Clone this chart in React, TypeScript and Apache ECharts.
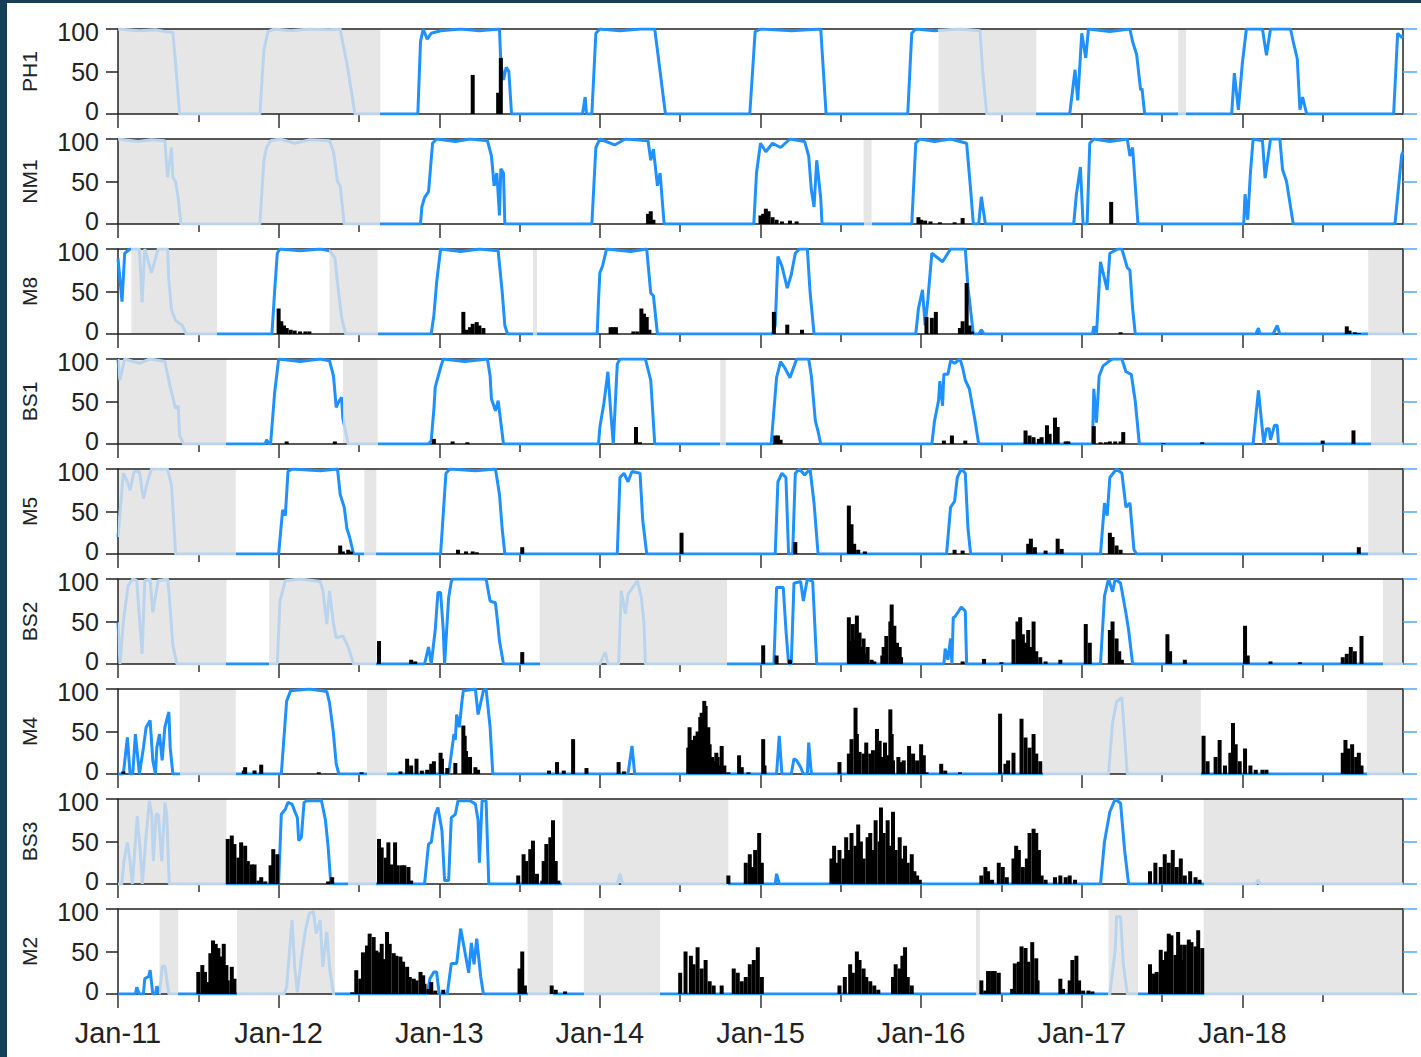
import React, { useEffect, useRef } from "react";
import * as echarts from "echarts";

// x values are months since Jan 2011
const STATIONS = ["PH1", "NM1", "M8", "BS1", "M5", "BS2", "M4", "BS3", "M2"];
const X_TICKS = [0, 12, 24, 36, 48, 60, 72, 84];
const X_MINOR_TICKS = [6, 18, 30, 42, 54, 66, 78, 90];
const X_TICK_LABELS = ["Jan-11", "Jan-12", "Jan-13", "Jan-14", "Jan-15", "Jan-16", "Jan-17", "Jan-18"];

const PH1_LINE = [[0,100],[1.6,98],[2.8,99],[3.5,97],[4.1,96],[4.3,60],[4.6,0],[10.6,0],[10.9,75],[11.2,97],[11.7,100],[12.9,98],[14.3,100],[15.8,99],[16.6,100],[16.9,75],[17.1,60],[17.3,40],[17.5,20],[17.7,0],[22.4,0],[22.6,85],[22.8,100],[23.1,88],[23.4,95],[24.1,98],[25.6,100],[27,98],[28.5,100],[28.6,60],[28.8,40],[29,55],[29.2,50],[29.4,0],[34.7,0],[34.9,20],[35,0],[35.4,0],[35.7,95],[36,100],[37.5,98],[39,100],[40.1,100],[40.5,50],[40.9,0],[47.2,0],[47.6,97],[48,100],[50.3,98],[52.5,100],[52.7,50],[52.9,0],[59,0],[59.3,95],[59.6,100],[61,98],[62.9,100],[64.4,98],[64.6,50],[64.9,0],[71.1,0],[71.5,52],[71.7,16],[72,95],[72.3,66],[72.5,100],[74.1,97],[75.6,100],[75.8,85],[76.1,70],[76.4,28],[76.5,30],[76.7,0],[83.2,0],[83.4,48],[83.7,5],[84,60],[84.3,100],[85.5,100],[85.8,69],[86.1,100],[87.6,100],[87.8,85],[88.1,65],[88.3,5],[88.5,20],[88.8,0],[95.3,0],[95.6,95],[95.9,90],[96,92]];
const PH1_BARS = [[26.5,46],[28.4,25],[28.6,66]];
const PH1_GRAY = [[0,19.6],[61.3,68.6],[79.2,79.8]];

const NM1_LINE = [[0,100],[1.5,97],[2.5,99],[3.5,98],[3.7,55],[4.0,90],[4.1,55],[4.3,50],[4.5,30],[4.7,0],[10.6,0],[10.9,75],[11.1,90],[11.4,98],[12.1,100],[13.2,95],[14.3,99],[15.8,98],[16.1,85],[16.4,50],[16.6,45],[16.9,0],[22.6,0],[22.7,20],[22.9,31],[23.2,38],[23.5,95],[23.8,100],[25.2,97],[26.3,100],[27.6,98],[27.9,80],[28.1,45],[28.3,60],[28.5,10],[28.6,65],[28.8,60],[28.9,0],[35.4,0],[35.7,90],[36,100],[37.1,93],[37.9,100],[39.6,98],[39.8,75],[40,88],[40.3,45],[40.5,60],[40.8,0],[47.5,0],[47.7,60],[48,95],[48.4,85],[48.9,95],[49.5,90],[50.2,100],[51.3,97],[51.6,80],[51.8,40],[52,20],[52.2,75],[52.5,30],[52.6,0],[59.3,0],[59.6,95],[59.9,100],[61,97],[62.2,100],[63.4,95],[63.7,40],[63.9,0],[64.3,0],[64.5,32],[64.8,0],[71.4,0],[71.6,35],[71.9,67],[72.1,0],[72.4,0],[72.6,95],[72.9,100],[74.1,97],[75.4,100],[75.6,80],[75.8,90],[76.2,0],[84.1,0],[84.2,35],[84.4,5],[84.6,60],[84.8,100],[85.5,98],[85.7,54],[86.1,100],[86.8,100],[87,64],[87.3,50],[87.8,0],[95.4,0],[95.9,81],[96,85]];
const NM1_BARS = [[39.6,12],[39.8,15],[40,5],[48,10],[48.2,12],[48.4,18],[48.6,15],[48.9,8],[49.2,5],[49.6,3],[50.2,4],[50.7,3],[59.8,8],[60,5],[60.3,4],[60.7,3],[61.4,2],[62.5,2],[63.1,7],[74.2,26]];
const NM1_GRAY = [[0,19.6],[55.7,56.3]];

const M8_LINE = [[0,89],[0.3,38],[0.5,95],[0.9,100],[1.6,100],[1.8,37],[2.0,100],[2.5,72],[3.0,100],[3.7,100],[3.8,63],[4.0,28],[4.3,16],[4.8,10],[5.1,0],[11.5,0],[11.7,50],[11.9,95],[12.1,100],[13.6,98],[15.1,100],[15.8,98],[16.2,90],[16.4,60],[16.7,20],[17,0],[23.4,0],[23.6,22],[23.8,60],[24.1,100],[25.6,97],[27,100],[28.4,98],[28.7,50],[28.9,10],[29.1,0],[35.8,0],[35.9,40],[36,72],[36.2,80],[36.5,100],[38.3,97],[39.5,100],[39.8,48],[40,45],[40.3,0],[48.9,0],[49.1,10],[49.3,91],[49.6,80],[50,54],[50.3,70],[50.6,95],[50.9,100],[51.5,100],[51.7,50],[52,0],[59.6,0],[59.8,30],[60.1,52],[60.3,10],[60.5,40],[60.8,95],[61.2,90],[61.6,85],[62.2,100],[63.3,100],[63.5,55],[63.9,0],[64.3,0],[64.5,5],[64.7,0],[72.8,0],[72.9,9],[73.1,0],[73.4,85],[73.9,52],[74.1,95],[74.7,100],[75,100],[75.4,78],[75.6,75],[75.8,30],[76,0],[85,0],[85.2,7],[85.3,0],[86.3,0],[86.6,10],[86.8,0],[96,0]];
const M8_BARS = [[12,30],[12.2,15],[12.4,10],[12.6,7],[12.9,5],[13.2,4],[13.6,3],[14,3],[14.3,3],[25.8,26],[26,5],[26.3,8],[26.5,12],[26.8,14],[27,10],[27.3,7],[36.8,8],[37,8],[37.2,8],[38.5,3],[38.8,3],[39.1,30],[39.3,24],[39.5,20],[39.7,5],[49,26],[50,11],[51.1,5],[60.4,20],[60.8,19],[61.1,26],[62.9,7],[63.1,15],[63.4,60],[63.6,10],[63.8,3],[74.9,2],[91.8,9],[92,4],[92.4,2],[92.7,1]];
const M8_GRAY = [[1.0,7.4],[15.8,19.4],[31,31.3],[93.4,96]];

const BS1_LINE = [[0,100],[0.15,75],[0.5,100],[1.6,95],[2.4,100],[3.5,97],[3.9,67],[4.3,42],[4.5,45],[4.6,10],[4.9,0],[11,0],[11.1,5],[11.3,0],[11.4,0],[11.7,60],[12,100],[13.6,97],[15.1,100],[15.8,98],[16.1,80],[16.3,43],[16.5,50],[16.7,55],[16.8,30],[17.2,0],[23.2,0],[23.4,4],[23.6,41],[23.7,67],[24.1,90],[24.3,100],[25.9,97],[27.6,100],[27.8,80],[27.9,53],[28.2,39],[28.4,51],[28.8,0],[35.9,0],[36,20],[36.3,48],[36.6,85],[36.8,40],[37,0],[37.3,94],[37.5,100],[39.4,100],[39.8,75],[40.1,0],[48.8,0],[49.2,78],[49.5,97],[49.8,90],[50.2,78],[50.7,100],[51.6,100],[51.8,80],[52.1,27],[52.3,15],[52.5,0],[60.8,0],[61,27],[61.3,51],[61.4,74],[61.6,45],[61.7,82],[62,82],[62.2,98],[62.5,95],[62.9,100],[63.1,90],[63.3,75],[63.6,65],[64,30],[64.3,0],[72.8,0],[72.9,65],[73.1,25],[73.3,80],[73.6,92],[74,97],[74.3,100],[75,100],[75.3,85],[75.7,82],[76,50],[76.3,0],[84.8,0],[85.2,63],[85.6,0],[85.8,18],[86,18],[86.1,5],[86.4,22],[86.6,22],[86.7,0],[96,0]];
const BS1_BARS = [[12.6,3],[16.2,3],[23.6,6],[25,3],[26.1,2],[38.7,20],[39,2],[49.1,10],[49.3,10],[49.5,5],[61.7,4],[62.3,10],[63.3,4],[67.8,16],[68.1,10],[68.4,8],[68.8,6],[69,8],[69.4,22],[69.6,12],[70,31],[70.2,20],[70.8,3],[71,3],[72.9,21],[73.4,2],[73.8,2],[74.1,3],[74.5,3],[74.9,3],[75.1,14],[78.1,1],[81,2],[90,4],[92.3,16]];
const BS1_GRAY = [[0,8.1],[16.8,19.4],[45,45.4],[93.6,96]];

const M5_LINE = [[0,20],[0.4,95],[0.7,85],[0.9,75],[1.2,97],[1.6,97],[1.9,65],[2.2,85],[2.5,100],[3.7,100],[4,80],[4.1,55],[4.3,0],[12,0],[12.3,52],[12.5,45],[12.7,97],[13,100],[15.1,98],[16.4,100],[16.6,70],[16.9,55],[17.1,30],[17.3,20],[17.6,0],[24.1,0],[24.5,95],[24.8,100],[26.7,98],[28.2,100],[28.5,70],[28.7,30],[28.9,0],[37.3,0],[37.5,90],[37.8,95],[38.1,85],[38.4,97],[39,95],[39.2,40],[39.5,0],[49.1,0],[49.3,85],[49.6,95],[49.9,90],[50.1,0],[50.4,0],[50.6,95],[50.9,100],[51.3,93],[51.7,100],[52,60],[52.3,0],[61.9,0],[62.2,55],[62.5,62],[62.7,90],[63,100],[63.3,95],[63.5,30],[63.7,0],[73.4,0],[73.7,60],[73.9,45],[74.1,90],[74.6,100],[75,95],[75.3,55],[75.6,60],[75.9,5],[76.1,0],[96,0]];
const M5_BARS = [[16.6,10],[16.8,3],[17.2,5],[17.4,3],[25.4,5],[26,3],[26.5,3],[26.8,2],[30.2,8],[42.1,25],[50.6,14],[54.6,57],[54.8,35],[55,12],[55.3,5],[55.8,3],[62.5,5],[63.1,4],[68,12],[68.2,18],[68.5,8],[69.3,4],[70.2,18],[70.5,6],[74.1,25],[74.3,20],[74.6,10],[74.9,5],[92.7,8]];
const M5_GRAY = [[0,8.8],[18.4,19.3],[93.4,96]];

const BS2_LINE = [[0,49],[0.15,0],[0.4,50],[0.75,92],[1.1,100],[1.4,98],[1.8,12],[2,98],[2.4,100],[2.6,61],[3,98],[3.7,100],[3.8,86],[4.1,22],[4.4,0],[11.9,0],[12.1,74],[12.5,98],[13.6,100],[15.1,97],[15.3,87],[15.6,47],[15.8,86],[16.1,47],[16.3,31],[16.8,33],[17.2,20],[17.6,0],[22.9,0],[23.2,20],[23.4,0],[23.7,40],[23.9,84],[24.1,84],[24.3,40],[24.4,0],[24.7,78],[24.9,97],[25,100],[27.5,100],[27.8,74],[28.2,72],[28.4,43],[28.5,27],[28.8,0],[36,0],[36.4,14],[36.6,0],[37.4,0],[37.6,86],[37.9,59],[38.1,82],[38.8,98],[39.1,78],[39.3,48],[39.4,0],[49,0],[49.2,90],[49.7,90],[49.9,40],[50.1,0],[50.3,0],[50.5,95],[51,97],[51.2,74],[51.5,100],[51.9,97],[52.2,0],[61.7,0],[61.8,18],[62,5],[62.2,30],[62.3,0],[62.4,55],[62.5,55],[62.8,62],[63,67],[63.3,62],[63.4,0],[73.4,0],[73.7,80],[74,100],[74.3,85],[74.5,100],[74.9,95],[75.3,60],[75.5,40],[75.8,0],[96,0]];
const BS2_BARS = [[19.5,27],[21.9,5],[22.2,3],[30.2,14],[48.2,22],[49.2,10],[50.2,5],[54.6,55],[54.8,27],[54.9,47],[55.1,30],[55.2,57],[55.4,37],[55.5,20],[55.7,30],[55.9,12],[56,20],[56.3,5],[56.5,3],[57.1,10],[57.2,20],[57.4,33],[57.7,50],[57.8,70],[58,45],[58.2,25],[58.4,20],[58.5,8],[63.1,3],[64.7,6],[66,2],[66.9,29],[67.2,50],[67.4,55],[67.6,35],[67.8,25],[68,40],[68.2,20],[68.4,50],[68.6,15],[68.9,8],[69.3,3],[70.4,5],[72.3,47],[72.6,25],[74.1,40],[74.3,50],[74.6,30],[74.8,15],[75,5],[78.4,35],[78.6,15],[79.7,5],[84.2,45],[84.4,10],[86.1,3],[88.3,2],[91.5,8],[91.8,12],[92.1,20],[92.4,15],[92.9,33]];
const BS2_GRAY = [[0,8.1],[11.3,19.3],[31.5,45.5],[94.5,96]];

const M4_LINE = [[0,0],[0.4,0],[0.7,43],[0.9,0],[1.1,0],[1.3,47],[1.6,0],[1.9,31],[2.1,55],[2.4,63],[2.6,16],[2.8,0],[2.9,31],[3.1,47],[3.3,16],[3.5,55],[3.8,73],[3.9,31],[4.1,0],[12.2,0],[12.6,86],[12.9,98],[14.3,100],[15.6,97],[15.8,84],[16.1,47],[16.3,12],[16.5,0],[24.7,0],[25.1,47],[25.2,40],[25.3,70],[25.5,55],[25.7,86],[25.8,98],[26.7,100],[26.9,70],[27.3,98],[27.5,100],[27.8,55],[28,0],[38.1,0],[38.4,33],[38.6,0],[49.2,0],[49.4,45],[49.6,0],[50.3,0],[50.5,18],[50.7,16],[51,8],[51.2,0],[51.5,0],[51.6,37],[51.8,0],[74,0],[74.3,60],[74.6,85],[75,90],[75.4,0],[96,0]];
const M4_BARS = [[0.4,3],[9.4,4],[9.5,8],[10.2,4],[10.7,11],[15,2],[18.2,2],[21.1,3],[21.6,18],[21.9,10],[22.3,18],[22.7,4],[23.1,5],[23.4,12],[23.6,15],[24.1,25],[24.2,18],[24.6,7],[25.2,13],[25.8,57],[25.9,45],[26,27],[26.3,20],[26.7,8],[26.9,5],[32.2,4],[32.8,14],[33.3,4],[34,41],[35,7],[37.4,14],[37.8,3],[42.6,31],[42.7,55],[42.9,40],[43.1,45],[43.3,50],[43.5,67],[43.6,72],[43.8,86],[43.9,80],[44.1,55],[44.2,35],[44.4,20],[44.5,15],[44.7,25],[44.8,20],[45,10],[45.1,33],[45.3,10],[45.6,2],[46.4,22],[46.6,8],[47.1,2],[48.2,41],[48.3,10],[53.9,14],[54.6,24],[54.8,41],[55.1,78],[55.2,47],[55.4,26],[55.7,24],[55.9,37],[56.2,24],[56.4,28],[56.7,53],[56.9,39],[57.1,20],[57.3,37],[57.6,22],[57.7,76],[57.8,47],[57.9,16],[58.3,20],[58.5,14],[58.7,16],[59.1,33],[59.4,24],[59.7,16],[60,35],[60.2,22],[60.4,2],[61.5,12],[61.8,4],[62.9,2],[65.9,71],[66.3,12],[66.5,16],[66.9,25],[67.5,65],[67.8,43],[68.1,31],[68.4,47],[68.6,24],[68.9,15],[81.1,45],[81.4,15],[82,20],[82.3,40],[82.7,10],[83.1,25],[83.3,60],[83.5,35],[83.8,15],[84.2,30],[84.6,10],[85,5],[85.5,5],[85.8,5],[91.5,25],[91.7,40],[91.9,30],[92.2,35],[92.5,20],[92.7,25],[92.9,10]];
const M4_GRAY = [[4.6,8.8],[18.6,20.1],[69.1,80.9],[93.3,96]];

const BS3_LINE = [[0,0],[0.28,0],[0.45,27],[0.7,49],[0.9,27],[1.07,0],[1.27,43],[1.44,80],[1.64,43],[1.82,0],[2.07,51],[2.34,98],[2.52,82],[2.64,27],[2.84,82],[3.01,82],[3.27,27],[3.51,96],[3.64,82],[3.83,0],[12,0],[12.2,82],[12.5,88],[12.7,96],[13,94],[13.4,78],[13.5,51],[13.7,55],[13.9,96],[14.1,98],[15.2,98],[15.5,75],[15.7,43],[15.9,0],[22.9,0],[23.2,47],[23.4,49],[23.7,82],[23.9,90],[24.2,63],[24.4,4],[24.7,4],[24.9,78],[25.2,82],[25.4,98],[26.3,98],[26.7,94],[26.9,75],[27,25],[27.2,98],[27.5,98],[27.7,0],[37.3,0],[37.5,12],[37.7,0],[49.1,0],[49.2,12],[49.4,0],[73.4,0],[73.7,50],[74.1,85],[74.5,100],[74.9,95],[75.2,40],[75.5,0],[85,0],[85.2,5],[85.3,0],[96,0]];
const BS3_BARS = [[8.2,53],[8.5,57],[8.7,47],[9,31],[9.2,49],[9.5,45],[9.7,27],[10,23],[10.2,23],[10.5,4],[10.7,8],[11,3],[11.4,22],[11.6,41],[11.9,35],[15.7,3],[16,8],[19.5,53],[19.7,43],[20,31],[20.2,49],[20.4,23],[20.7,49],[20.9,22],[21.2,22],[21.4,22],[21.7,20],[21.9,4],[29.9,10],[30.3,35],[30.5,27],[30.8,41],[31,51],[31.3,12],[31.7,4],[31.8,27],[32,47],[32.3,55],[32.5,75],[32.7,27],[32.9,4],[45.6,10],[46.9,25],[47.2,35],[47.4,20],[47.6,40],[47.9,60],[48.1,25],[53.3,30],[53.5,45],[53.7,25],[53.9,40],[54.2,30],[54.4,55],[54.6,40],[54.8,60],[55.1,45],[55.3,70],[55.5,50],[55.7,30],[56,55],[56.2,60],[56.4,40],[56.6,75],[56.9,50],[57,90],[57.2,60],[57.5,75],[57.7,45],[57.9,85],[58.1,40],[58.4,55],[58.6,30],[58.8,45],[59,25],[59.3,35],[59.5,15],[59.7,10],[59.9,5],[64.5,10],[64.8,20],[65,15],[65.3,5],[65.8,25],[66.1,20],[66.4,8],[66.9,30],[67.1,45],[67.3,40],[67.6,20],[67.9,30],[68.1,60],[68.4,65],[68.6,60],[68.8,40],[69,10],[69.3,5],[70,8],[70.4,10],[70.8,8],[71.1,10],[71.5,5],[77.1,15],[77.5,25],[77.9,20],[78.2,35],[78.5,25],[78.8,40],[79.1,20],[79.4,30],[79.7,10],[80.1,15],[80.5,8],[80.8,5]];
const BS3_GRAY = [[0,8.1],[17.2,19.3],[33.2,45.6],[81.1,96]];

const M2_LINE = [[0,0],[1.3,0],[1.4,8],[1.6,0],[1.9,0],[2,18],[2.3,21],[2.4,28],[2.6,0],[2.8,0],[2.9,9],[3.1,0],[3.3,32],[3.5,33],[3.8,0],[12.4,0],[12.6,8],[13,87],[13.2,32],[13.4,2],[13.7,42],[14,75],[14.3,95],[14.6,97],[14.8,71],[15.1,87],[15.3,32],[15.6,73],[15.8,32],[16.1,0],[23.1,0],[23.3,18],[23.6,26],[23.8,26],[24,0],[24.6,0],[24.9,36],[25.3,36],[25.6,77],[25.9,51],[26.2,25],[26.4,60],[26.6,35],[26.8,65],[27.1,20],[27.3,0],[74.1,0],[74.5,52],[74.6,91],[74.9,91],[75.1,36],[75.4,0],[96,0]];
const M2_BARS = [[6,26],[6.3,34],[6.5,26],[6.7,14],[6.9,48],[7.1,63],[7.3,59],[7.5,54],[7.7,44],[7.9,59],[8.1,34],[8.2,16],[8.5,32],[8.7,18],[17.5,2],[17.8,28],[18.1,18],[18.3,49],[18.6,57],[18.8,71],[19.1,67],[19.3,51],[19.5,49],[19.7,59],[19.9,41],[20.1,73],[20.3,59],[20.6,48],[20.8,45],[21.1,44],[21.3,38],[21.6,32],[21.8,20],[22.1,18],[22.3,16],[22.6,26],[22.8,22],[22.9,12],[23.2,6],[23.4,14],[23.7,4],[24.3,5],[30,30],[30.2,50],[30.4,10],[32.4,10],[32.7,5],[33.4,3],[42,25],[42.4,50],[42.8,45],[43,35],[43.3,55],[43.6,30],[43.9,40],[44.2,15],[44.5,10],[45.1,10],[46,30],[46.3,25],[46.6,15],[46.9,20],[47.2,35],[47.5,40],[47.8,55],[48.1,20],[53.9,10],[54.3,20],[54.7,35],[54.9,25],[55.2,50],[55.4,40],[55.7,30],[55.9,20],[56.2,15],[56.5,10],[56.8,5],[57.9,20],[58.1,35],[58.4,30],[58.6,45],[58.8,55],[59,20],[59.3,10],[64.5,16],[64.8,4],[65,27],[65.3,27],[65.5,27],[65.8,25],[66.8,6],[67,36],[67.3,38],[67.5,56],[67.8,54],[68,38],[68.3,61],[68.6,42],[68.7,16],[70.4,18],[70.6,6],[71.1,16],[71.3,40],[71.6,45],[71.8,16],[72.1,4],[72.5,4],[72.8,3],[77.1,35],[77.4,24],[77.6,26],[77.9,52],[78.1,40],[78.3,50],[78.5,71],[78.7,69],[79,46],[79.2,73],[79.4,58],[79.6,40],[79.7,58],[80,64],[80.2,61],[80.5,56],[80.7,75],[81,54]];
const M2_GRAY = [[3.1,4.5],[8.9,16.2],[30.6,32.5],[34.8,40.5],[64.1,64.4],[74,76.2],[81.1,96]];

const PANELS = [
  { name: STATIONS[0], line: PH1_LINE, bars: PH1_BARS, gray: PH1_GRAY },
  { name: STATIONS[1], line: NM1_LINE, bars: NM1_BARS, gray: NM1_GRAY },
  { name: STATIONS[2], line: M8_LINE, bars: M8_BARS, gray: M8_GRAY },
  { name: STATIONS[3], line: BS1_LINE, bars: BS1_BARS, gray: BS1_GRAY },
  { name: STATIONS[4], line: M5_LINE, bars: M5_BARS, gray: M5_GRAY },
  { name: STATIONS[5], line: BS2_LINE, bars: BS2_BARS, gray: BS2_GRAY },
  { name: STATIONS[6], line: M4_LINE, bars: M4_BARS, gray: M4_GRAY },
  { name: STATIONS[7], line: BS3_LINE, bars: BS3_BARS, gray: BS3_GRAY },
  { name: STATIONS[8], line: M2_LINE, bars: M2_BARS, gray: M2_GRAY },
];

const BLUE = "#1e90ff";
const FADED = "#bad4ee";
const SHADE = "#e6e6e6";
const INK = "#222222";
const FONT = "'Liberation Sans', Arial, Helvetica, sans-serif";

function buildOption() {
  const n = PANELS.length;
  const grid: any[] = [];
  const xAxis: any[] = [];
  const yAxis: any[] = [];
  const series: any[] = [];
  const visualMap: any[] = [];
  PANELS.forEach((p, i) => {
    grid.push({ left: 118, width: 1285, top: 29 + 110 * i, height: 85, show: false });
    const base = { gridIndex: i, type: "value", min: 0, max: 96, splitLine: { show: false }, z: 3 };
    xAxis.push({
      ...base,
      position: "bottom",
      axisLine: { show: true, onZero: false, lineStyle: { color: INK, width: 1.5 } },
      axisTick: { show: true, length: 14, customValues: X_TICKS, lineStyle: { color: "#333", width: 1.5 } },
      axisLabel: {
        show: i === n - 1,
        customValues: X_TICKS,
        formatter: (v: number) => X_TICK_LABELS[X_TICKS.indexOf(Math.round(v))] || "",
        fontSize: 29,
        color: INK,
        margin: 24,
        fontFamily: FONT,
      },
    });
    xAxis.push({
      ...base,
      position: "bottom",
      axisLine: { show: false, onZero: false },
      axisTick: { show: true, length: 8, customValues: X_MINOR_TICKS, lineStyle: { color: "#333", width: 1.5 } },
      axisLabel: { show: false },
    });
    xAxis.push({
      ...base,
      position: "top",
      axisLine: { show: true, onZero: false, lineStyle: { color: INK, width: 1.5 } },
      axisTick: { show: false },
      axisLabel: { show: false },
    });
    yAxis.push({
      gridIndex: i,
      type: "value",
      min: 0,
      max: 100,
      interval: 50,
      position: "left",
      z: 3,
      name: p.name,
      nameLocation: "middle",
      nameGap: 78,
      nameTextStyle: { fontSize: 21, color: INK, fontFamily: FONT },
      axisLine: { show: true, onZero: false, lineStyle: { color: INK, width: 1.5 } },
      axisTick: { show: true, length: 12, lineStyle: { color: INK, width: 1.5 } },
      axisLabel: {
        fontSize: 25,
        lineHeight: 6,
        verticalAlignMinLabel: "bottom",
        verticalAlignMaxLabel: "top",
        color: INK,
        margin: 19,
        fontFamily: FONT,
      },
      splitLine: { show: false },
    });
    yAxis.push({
      gridIndex: i,
      type: "value",
      min: 0,
      max: 100,
      interval: 50,
      position: "right",
      z: 3,
      axisLine: { show: true, onZero: false, lineStyle: { color: INK, width: 1.5 } },
      axisTick: { show: true, length: 14, lineStyle: { color: "#4da6ff", width: 1.5 } },
      axisLabel: { show: false },
      splitLine: { show: false },
    });
    series.push({
      type: "custom",
      xAxisIndex: 3 * i,
      yAxisIndex: 2 * i,
      z: 1,
      silent: true,
      data: p.gray,
      renderItem: (params: any, api: any) => {
        const a = api.coord([api.value(0), 100]);
        const b = api.coord([api.value(1), 0]);
        return {
          type: "rect",
          shape: { x: a[0], y: a[1], width: b[0] - a[0], height: b[1] - a[1] },
          style: { fill: SHADE },
        };
      },
    });
    series.push({
      type: "line",
      xAxisIndex: 3 * i,
      yAxisIndex: 2 * i,
      z: 4,
      data: p.line,
      showSymbol: false,
      symbol: "none",
      lineStyle: { width: 3 },
    });
    series.push({
      type: "bar",
      xAxisIndex: 3 * i,
      yAxisIndex: 2 * i,
      z: 5,
      data: p.bars,
      barWidth: 4,
      itemStyle: { color: "#000" },
    });
    visualMap.push({
      type: "piecewise",
      show: false,
      seriesIndex: 3 * i + 1,
      dimension: 0,
      pieces: p.gray.map(([a, b]) => ({ min: a, max: b, color: FADED })),
      outOfRange: { color: BLUE },
    });
  });
  return {
    animation: false,
    backgroundColor: "#ffffff",
    textStyle: { fontFamily: FONT },
    grid,
    xAxis,
    yAxis,
    series,
    visualMap,
    graphic: [
      { type: "rect", left: 0, top: 0, shape: { width: 1421, height: 3 }, style: { fill: "#143f5a" }, z: 100 },
      { type: "rect", left: 0, top: 0, shape: { width: 7, height: 1057 }, style: { fill: "#143f5a" }, z: 100 },
    ],
  };
}

export default function App() {
  const ref = useRef<HTMLDivElement>(null);
  useEffect(() => {
    if (!ref.current) return;
    const chart = echarts.init(ref.current, undefined, { renderer: "svg" });
    chart.setOption(buildOption() as any);
    return () => chart.dispose();
  }, []);
  return (
    <div
      ref={ref}
      style={{ position: "absolute", left: 0, top: 0, width: 1421, height: 1057, background: "#fff" }}
    />
  );
}
